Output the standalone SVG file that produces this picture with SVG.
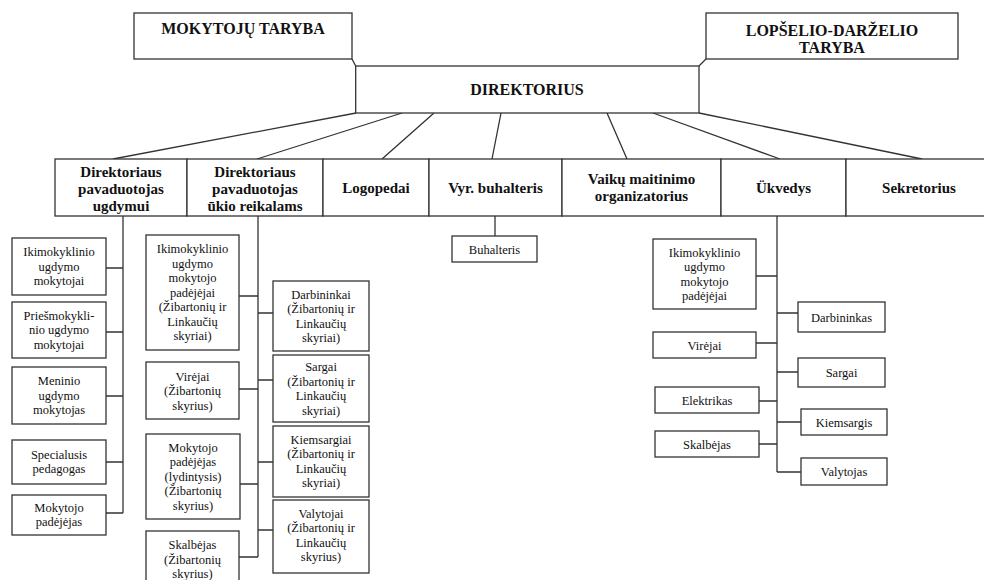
<svg xmlns="http://www.w3.org/2000/svg" width="984" height="580" viewBox="0 0 984 580">
<style>
.b{fill:#fff;stroke:#333;stroke-width:1.3}
.c{fill:none;stroke:#333;stroke-width:1.3}
.h{font-family:"Liberation Serif","Times New Roman",serif;font-weight:bold;font-size:16px;fill:#111;text-anchor:middle}
.m{font-family:"Liberation Serif","Times New Roman",serif;font-weight:bold;font-size:15px;fill:#111;text-anchor:middle}
.s{font-family:"Liberation Serif","Times New Roman",serif;font-size:12.5px;fill:#111;text-anchor:middle}
</style>
<rect width="984" height="580" fill="#fff"/>
<g id="connectors">
<path class="c" d="M352,59 L355.7,66 M706,59 L699,66"/>
<path class="c" d="M356,113 L113,159 M402,113 L257,159 M434,113 L382,159 M501,113 L492,159 M607,113 L627,159 M653,113 L780,159 M699,113 L922,159"/>
<path class="c" d="M123,216 V513 M106,268 H123 M106,332 H123 M106,396 H123 M106,462 H123 M106,513 H123"/>
<path class="c" d="M258,216 V557 M239,296 H258 M239,389 H258 M240,484 H258 M239,557 H258 M258,313 H273 M258,380 H273 M258,462 H273 M258,530 H273"/>
<path class="c" d="M495,216 V236"/>
<path class="c" d="M777,216 V472 M756,276 H777 M756,343 H777 M759,401 H777 M759,444 H777 M777,313 H798 M777,372 H798 M777,422 H801 M777,472 H801"/>
</g>
<g id="mokytoju-taryba"><rect class="b" x="134" y="13" width="218" height="46"/><text class="h" x="243" y="34">MOKYTOJŲ TARYBA</text></g>
<g id="lopselio-darzelio-taryba"><rect class="b" x="706" y="13" width="252" height="46"/><text class="h" x="832" y="36">LOPŠELIO-DARŽELIO</text><text class="h" x="832" y="53">TARYBA</text></g>
<g id="direktorius"><rect class="b" x="355.7" y="66" width="343.3" height="47"/><text class="h" x="527" y="95">DIREKTORIUS</text></g>
<g id="pav-ugdymui"><rect class="b" x="55" y="159" width="132" height="57"/><text class="m" x="121" y="177">Direktoriaus</text><text class="m" x="121" y="194">pavaduotojas</text><text class="m" x="121" y="211">ugdymui</text></g>
<g id="pav-ukio"><rect class="b" x="187" y="159" width="136" height="57"/><text class="m" x="255" y="177">Direktoriaus</text><text class="m" x="255" y="194">pavaduotojas</text><text class="m" x="255" y="211">ūkio reikalams</text></g>
<g id="logopedai"><rect class="b" x="323" y="159" width="106" height="57"/><text class="m" x="376" y="193">Logopedai</text></g>
<g id="vyr-buhalteris"><rect class="b" x="429" y="159" width="133" height="57"/><text class="m" x="495.5" y="193">Vyr. buhalteris</text></g>
<g id="vaiku-maitinimo"><rect class="b" x="562" y="159" width="159" height="57"/><text class="m" x="641.5" y="184">Vaikų maitinimo</text><text class="m" x="641.5" y="201">organizatorius</text></g>
<g id="ukvedys"><rect class="b" x="721" y="159" width="125" height="57"/><text class="m" x="783.5" y="193">Ükvedys</text></g>
<g id="sekretorius"><rect class="b" x="846" y="159" width="146" height="57"/><text class="m" x="919" y="193">Sekretorius</text></g>

<g id="l-ikimok"><rect class="b" x="12" y="238" width="94" height="57"/><text class="s" x="59" y="256">Ikimokyklinio</text><text class="s" x="59" y="270.5">ugdymo</text><text class="s" x="59" y="285">mokytojai</text></g>
<g id="l-priesmok"><rect class="b" x="12" y="302" width="94" height="56"/><text class="s" x="59" y="319.5">Priešmokykli-</text><text class="s" x="59" y="334">nio ugdymo</text><text class="s" x="59" y="348.5">mokytojai</text></g>
<g id="l-meninio"><rect class="b" x="12" y="367" width="94" height="57"/><text class="s" x="59" y="385">Meninio</text><text class="s" x="59" y="399.5">ugdymo</text><text class="s" x="59" y="414">mokytojas</text></g>
<g id="l-special"><rect class="b" x="12" y="440" width="94" height="44"/><text class="s" x="59" y="458.5">Specialusis</text><text class="s" x="59" y="473">pedagogas</text></g>
<g id="l-mokpad"><rect class="b" x="12" y="495" width="94" height="40"/><text class="s" x="59" y="511.5">Mokytojo</text><text class="s" x="59" y="526">padėjėjas</text></g>

<g id="m-ikimok"><rect class="b" x="146" y="235" width="93" height="115"/><text class="s" x="192.5" y="253.3">Ikimokyklinio</text><text class="s" x="192.5" y="267.8">ugdymo</text><text class="s" x="192.5" y="282.3">mokytojo</text><text class="s" x="192.5" y="296.8">padėjėjai</text><text class="s" x="192.5" y="311.3">(Žibartonių ir</text><text class="s" x="192.5" y="325.8">Linkaučių</text><text class="s" x="192.5" y="340.3">skyriai)</text></g>
<g id="m-virejai"><rect class="b" x="146" y="362" width="93" height="57"/><text class="s" x="192.5" y="380.8">Virėjai</text><text class="s" x="192.5" y="395.3">(Žibartonių</text><text class="s" x="192.5" y="409.8">skyrius)</text></g>
<g id="m-mokpad"><rect class="b" x="146" y="434" width="94" height="85"/><text class="s" x="193" y="451.8">Mokytojo</text><text class="s" x="193" y="466.3">padėjėjas</text><text class="s" x="193" y="480.8">(lydintysis)</text><text class="s" x="193" y="495.3">(Žibartonių</text><text class="s" x="193" y="509.8">skyrius)</text></g>
<g id="m-skalbejas"><rect class="b" x="146" y="531" width="93" height="60"/><text class="s" x="192.5" y="549.3">Skalbėjas</text><text class="s" x="192.5" y="563.8">(Žibartonių</text><text class="s" x="192.5" y="578.3">skyrius)</text></g>

<g id="r-darbininkai"><rect class="b" x="273" y="281" width="96" height="70"/><text class="s" x="321" y="298.5">Darbininkai</text><text class="s" x="321" y="313">(Žibartonių ir</text><text class="s" x="321" y="327.5">Linkaučių</text><text class="s" x="321" y="342">skyriai)</text></g>
<g id="r-sargai"><rect class="b" x="273" y="355" width="96" height="67"/><text class="s" x="321" y="371">Sargai</text><text class="s" x="321" y="385.5">(Žibartonių ir</text><text class="s" x="321" y="400">Linkaučių</text><text class="s" x="321" y="414.5">skyriai)</text></g>
<g id="r-kiemsargiai"><rect class="b" x="273" y="426" width="96" height="71"/><text class="s" x="321" y="443.5">Kiemsargiai</text><text class="s" x="321" y="458">(Žibartonių ir</text><text class="s" x="321" y="472.5">Linkaučių</text><text class="s" x="321" y="487">skyriai)</text></g>
<g id="r-valytojai"><rect class="b" x="273" y="500" width="96" height="73"/><text class="s" x="321" y="517.5">Valytojai</text><text class="s" x="321" y="532">(Žibartonių ir</text><text class="s" x="321" y="546.5">Linkaučių</text><text class="s" x="321" y="561">skyrius)</text></g>

<g id="buhalteris"><rect class="b" x="452" y="236" width="85" height="26"/><text class="s" x="494.5" y="253.5">Buhalteris</text></g>

<g id="u-ikimok"><rect class="b" x="653" y="239" width="103" height="70"/><text class="s" x="704.5" y="256.5">Ikimokyklinio</text><text class="s" x="704.5" y="271">ugdymo</text><text class="s" x="704.5" y="285.5">mokytojo</text><text class="s" x="704.5" y="300">padėjėjai</text></g>
<g id="u-virejai"><rect class="b" x="653" y="332" width="103" height="26"/><text class="s" x="704.5" y="349.5">Virėjai</text></g>
<g id="u-elektrikas"><rect class="b" x="655" y="387" width="104" height="26"/><text class="s" x="707" y="404.5">Elektrikas</text></g>
<g id="u-skalbejas"><rect class="b" x="655" y="431" width="104" height="26"/><text class="s" x="707" y="448.5">Skalbėjas</text></g>
<g id="u-darbininkas"><rect class="b" x="798" y="302" width="87" height="30"/><text class="s" x="841.5" y="321.5">Darbininkas</text></g>
<g id="u-sargai"><rect class="b" x="798" y="358" width="87" height="29"/><text class="s" x="841.5" y="377">Sargai</text></g>
<g id="u-kiemsargis"><rect class="b" x="801" y="409" width="86" height="26"/><text class="s" x="844" y="426.5">Kiemsargis</text></g>
<g id="u-valytojas"><rect class="b" x="801" y="458" width="86" height="27"/><text class="s" x="844" y="476">Valytojas</text></g>
</svg>
